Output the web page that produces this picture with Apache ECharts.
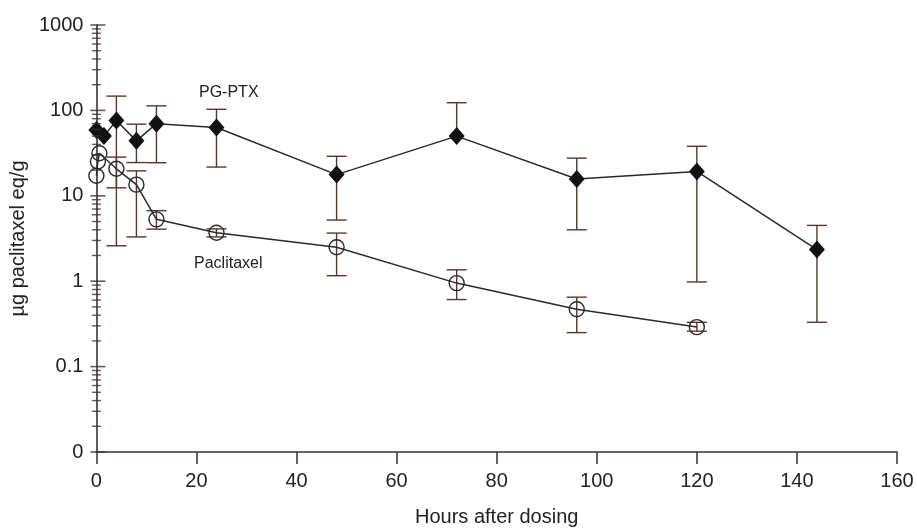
<!DOCTYPE html>
<html>
<head>
<meta charset="utf-8">
<script src="https://cdn.jsdelivr.net/npm/echarts@6/dist/echarts.min.js"></script>
<style>
html, body { margin: 0; padding: 0; background: #fff; }
#chart { width: 917px; height: 532px; }
</style>
</head>
<body>
<div id="chart"></div>
<script>
// PG-PTX (filled diamonds)
const pgHours = [0, 1.5, 4, 8, 12, 24, 48, 72, 96, 120, 144];
const pgMean  = [59, 50, 76, 44, 70, 63, 17.7, 50, 15.7, 19.3, 2.35];
const pgLow   = [null, null, 2.6, 24.5, 24.4, 21.7, 5.2, null, 4.0, 0.98, 0.33];
const pgHigh  = [null, null, 147, 69, 113, 103, 29, 123, 27.6, 38, 4.5];

// Paclitaxel (open circles)
const pacHours = [0, 0.3, 0.6, 4, 8, 12, 24, 48, 72, 96, 120];
const pacMean  = [17.2, 25.2, 31.5, 20.7, 13.5, 5.3, 3.7, 2.5, 0.95, 0.47, 0.29];
const pacLow   = [null, null, null, 12.4, 3.3, 4.07, 3.3, 1.16, 0.61, 0.25, 0.26];
const pacHigh  = [null, null, null, 28.4, 19.6, 6.7, 4.1, 3.66, 1.36, 0.65, 0.33];

const yTickValues = [0.01, 0.1, 1, 10, 100, 1000];
const yTickLabels = ['0', '0.1', '1', '10', '100', '1000'];
const xTickLabels = [0, 20, 40, 60, 80, 100, 120, 140, 160];

const FONT = 'Liberation Sans, Arial, Helvetica, sans-serif';
const TEXT_COLOR = '#222';
const AXIS_COLOR = '#3d302c';
const LINE_COLOR = '#262b2d';
const ERRORBAR_COLOR = '#5e3429';

// minor ticks of the log axis: 2..9 in every decade
let yMinorTicks = [];
for (let d = 0; d < yTickValues.length - 1; d++) {
    for (let k = 2; k <= 9; k++) {
        yMinorTicks.push(+(k * yTickValues[d]).toPrecision(3));
    }
}

let chart = echarts.init(document.getElementById('chart'));

function pairs(xs, ys) {
    return xs.map((x, i) => [x, ys[i]]);
}

function errorBars(name, hours, mean, low, high) {
    let data = [];
    hours.forEach((h, i) => {
        if (high[i] != null) {
            data.push([h, mean[i], low[i] == null ? -1 : low[i], high[i]]);
        }
    });
    return {
        name: name,
        type: 'custom',
        silent: true,
        clip: false,
        z: 1,
        data: data,
        encode: {x: 0, y: [1, 3]},
        renderItem: function (params, api) {
            let x = api.value(0);
            let lowVal = api.value(2);
            let hasLow = lowVal > 0;
            let top = api.coord([x, api.value(3)]);
            let bottom = api.coord([x, hasLow ? lowVal : api.value(1)]);
            let w = 10;
            let style = {stroke: ERRORBAR_COLOR, lineWidth: 1.4};
            let children = [
                {type: 'line', shape: {x1: top[0], y1: top[1], x2: bottom[0], y2: bottom[1]}, style: style},
                {type: 'line', shape: {x1: top[0] - w, y1: top[1], x2: top[0] + w, y2: top[1]}, style: style}
            ];
            if (hasLow) {
                children.push({type: 'line', shape: {x1: bottom[0] - w, y1: bottom[1], x2: bottom[0] + w, y2: bottom[1]}, style: style});
            }
            return {type: 'group', children: children};
        }
    };
}

function yTicks(values, size, offset) {
    return {
        type: 'scatter',
        silent: true,
        clip: false,
        z: 5,
        symbol: 'rect',
        symbolSize: size,
        symbolOffset: offset,
        itemStyle: {color: AXIS_COLOR},
        data: values.map(v => [0, v])
    };
}

let options = {
    animation: false,
    grid: {left: 96, right: 20, top: 25, bottom: 75},
    xAxis: {
        type: 'value',
        min: 0,
        max: 160,
        interval: 20,
        name: 'Hours after dosing',
        nameLocation: 'middle',
        nameGap: 55,
        nameTextStyle: {fontFamily: FONT, fontSize: 20, color: TEXT_COLOR},
        axisLine: {lineStyle: {color: AXIS_COLOR, width: 1.6}},
        axisTick: {length: 12, lineStyle: {color: AXIS_COLOR, width: 1.5}},
        axisLabel: {
            margin: 19,
            fontFamily: FONT,
            fontSize: 20,
            color: TEXT_COLOR,
            formatter: v => xTickLabels.includes(v) ? String(v) : ''
        },
        splitLine: {show: false}
    },
    yAxis: {
        type: 'log',
        logBase: 10,
        min: 0.01,
        max: 1000,
        name: 'µg paclitaxel eq/g',
        nameLocation: 'middle',
        nameGap: 64,
        nameTextStyle: {fontFamily: FONT, fontSize: 20, color: TEXT_COLOR},
        axisLine: {show: true, lineStyle: {color: AXIS_COLOR, width: 1.6}},
        axisTick: {show: false},
        axisLabel: {
            margin: 13,
            fontFamily: FONT,
            fontSize: 20,
            color: TEXT_COLOR,
            formatter: function (v) {
                let i = yTickValues.findIndex(t => Math.abs(Math.log10(t) - Math.log10(v)) < 1e-6);
                return i >= 0 ? yTickLabels[i] : '';
            }
        },
        splitLine: {show: false}
    },
    graphic: [
        {type: 'text', left: 199, top: 85, style: {text: 'PG-PTX', font: '16px ' + FONT, fill: TEXT_COLOR}},
        {type: 'text', left: 194, top: 256, style: {text: 'Paclitaxel', font: '16px ' + FONT, fill: TEXT_COLOR}}
    ],
    series: [
        yTicks(yMinorTicks, [9, 1.4], [0, 0]),
        yTicks(yTickValues, [15, 1.6], [1.5, 0]),
        errorBars('PG-PTX error', pgHours, pgMean, pgLow, pgHigh),
        errorBars('Paclitaxel error', pacHours, pacMean, pacLow, pacHigh),
        {
            name: 'Paclitaxel',
            type: 'line',
            clip: false,
            z: 3,
            data: pairs(pacHours, pacMean),
            symbol: 'circle',
            symbolSize: 15,
            showAllSymbol: true,
            lineStyle: {color: LINE_COLOR, width: 1.5},
            itemStyle: {color: 'rgba(255,255,255,0)', borderColor: LINE_COLOR, borderWidth: 1.4}
        },
        {
            name: 'PG-PTX',
            type: 'line',
            clip: false,
            z: 4,
            data: pairs(pgHours, pgMean),
            symbol: 'diamond',
            symbolSize: [16, 18],
            showAllSymbol: true,
            lineStyle: {color: LINE_COLOR, width: 1.5},
            itemStyle: {color: '#111', borderColor: '#111', borderWidth: 0}
        }
    ]
};

chart.setOption(options);
</script>
</body>
</html>
